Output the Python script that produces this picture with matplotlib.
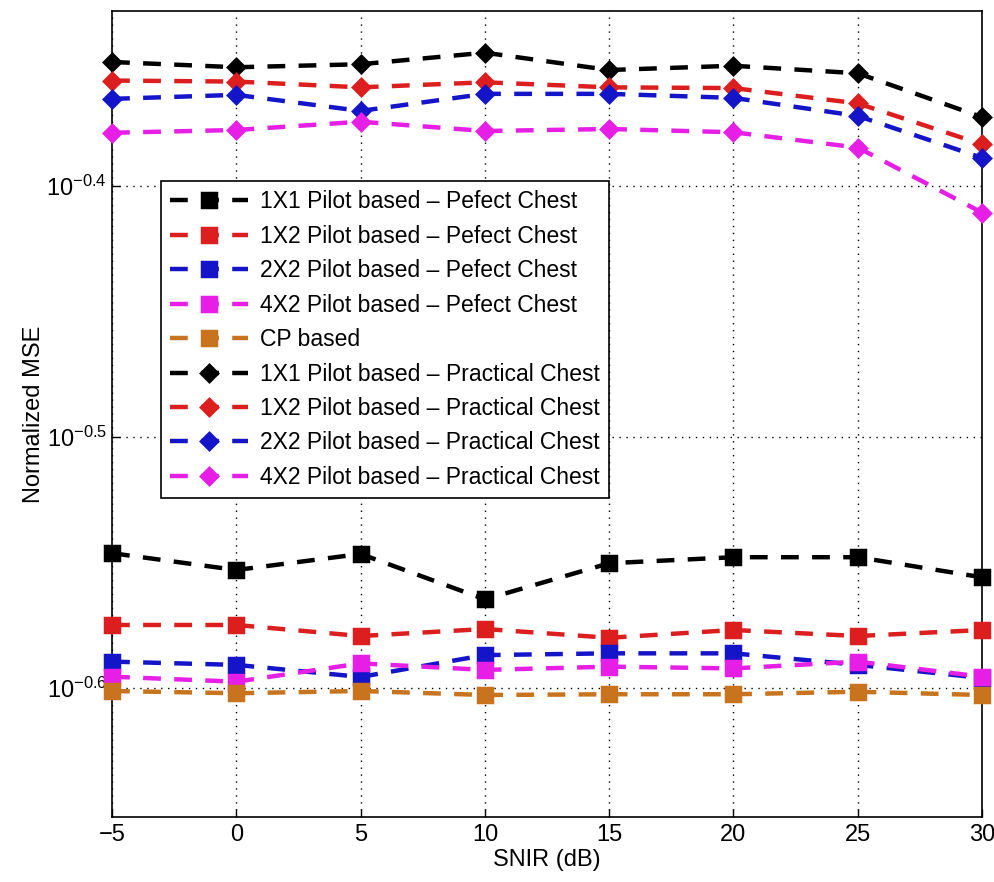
import numpy as np
import matplotlib
matplotlib.use("Agg")
import matplotlib.pyplot as plt
from matplotlib.ticker import FixedLocator, FuncFormatter, NullLocator

plt.rcParams['font.family'] = ['Liberation Sans', 'DejaVu Sans']
plt.rcParams['mathtext.default'] = 'regular'

# SNIR values (dB)
snir = [-5, 0, 5, 10, 15, 20, 25, 30]

# log10 of the normalized MSE
perfect_1x1 = [-0.5463, -0.5530, -0.5466, -0.5647, -0.5503, -0.5479, -0.5479, -0.5559]
perfect_1x2 = [-0.5749, -0.5749, -0.5793, -0.5765, -0.5800, -0.5769, -0.5793, -0.5769]
perfect_2x2 = [-0.5895, -0.5908, -0.5956, -0.5869, -0.5862, -0.5862, -0.5908, -0.5960]
perfect_4x2 = [-0.5955, -0.5975, -0.5902, -0.5928, -0.5915, -0.5922, -0.5895, -0.5955]
cp_based = [-0.6012, -0.6021, -0.6012, -0.6028, -0.6025, -0.6025, -0.6015, -0.6028]
practical_1x1 = [-0.3506, -0.3527, -0.3515, -0.3469, -0.3538, -0.3521, -0.3551, -0.3726]
practical_1x2 = [-0.3580, -0.3584, -0.3607, -0.3587, -0.3607, -0.3610, -0.3671, -0.3834]
practical_2x2 = [-0.3653, -0.3637, -0.3701, -0.3633, -0.3633, -0.3649, -0.3721, -0.3888]
practical_4x2 = [-0.3788, -0.3777, -0.3744, -0.3781, -0.3773, -0.3786, -0.3847, -0.4106]

labels = [
    "1X1 Pilot based \u2013 Pefect Chest",
    "1X2 Pilot based \u2013 Pefect Chest",
    "2X2 Pilot based \u2013 Pefect Chest",
    "4X2 Pilot based \u2013 Pefect Chest",
    "CP based",
    "1X1 Pilot based \u2013 Practical Chest",
    "1X2 Pilot based \u2013 Practical Chest",
    "2X2 Pilot based \u2013 Practical Chest",
    "4X2 Pilot based \u2013 Practical Chest",
]
series = [perfect_1x1, perfect_1x2, perfect_2x2, perfect_4x2, cp_based,
          practical_1x1, practical_1x2, practical_2x2, practical_4x2]

BLACK = "#000000"
RED = "#dc1e1e"
BLUE = "#1414c8"
MAGENTA = "#e61ee6"
ORANGE = "#c8731e"
colors = [BLACK, RED, BLUE, MAGENTA, ORANGE, BLACK, RED, BLUE, MAGENTA]
markers = ["s"] * 5 + ["D"] * 4

fig = plt.figure(figsize=(9.95, 8.82), dpi=100)
ax = fig.add_axes([0.1126, 0.0737, 0.8744, 0.9138])

for vals, lab, col, mk in zip(series, labels, colors, markers):
    ms = 9.5 if mk == "s" else 8.5
    ax.plot(snir, 10 ** np.array(vals), linestyle=(0, (4, 3)), linewidth=3.2,
            color=col, marker=mk, markersize=ms, markeredgewidth=2.5,
            markerfacecolor=col, markeredgecolor=col, label=lab, clip_on=False,
            zorder=3)

ax.set_yscale("log")
ax.set_xlim(-5, 30)
ax.set_ylim(10 ** -0.6514, 10 ** -0.3303)
ax.set_xticks(snir)
ax.yaxis.set_major_locator(FixedLocator([10 ** -0.6, 10 ** -0.5, 10 ** -0.4]))
ax.yaxis.set_minor_locator(NullLocator())
ax.yaxis.set_major_formatter(FuncFormatter(lambda v, p: "$10^{%.1f}$" % np.log10(v)))
ax.tick_params(axis="both", labelsize=17, direction="in", length=6, width=1)
ax.tick_params(axis="x", pad=5)
ax.grid(True, linestyle=(0, (1, 4)), color="black", linewidth=1)
for s in ax.spines.values():
    s.set_linewidth(1.2)

ax.set_xlabel("SNIR (dB)", fontsize=17, labelpad=2)
ax.set_ylabel("Normalized MSE", fontsize=17, labelpad=1)

leg = ax.legend(loc="upper left", bbox_to_anchor=(0.0563, 0.789), fontsize=16.5,
                fancybox=False, framealpha=1, edgecolor="black", borderaxespad=0,
                handlelength=3.4, labelspacing=0.5, borderpad=0.4,
                handletextpad=0.5)
leg.get_frame().set_linewidth(1.2)

fig.savefig("out.png", dpi=100)
